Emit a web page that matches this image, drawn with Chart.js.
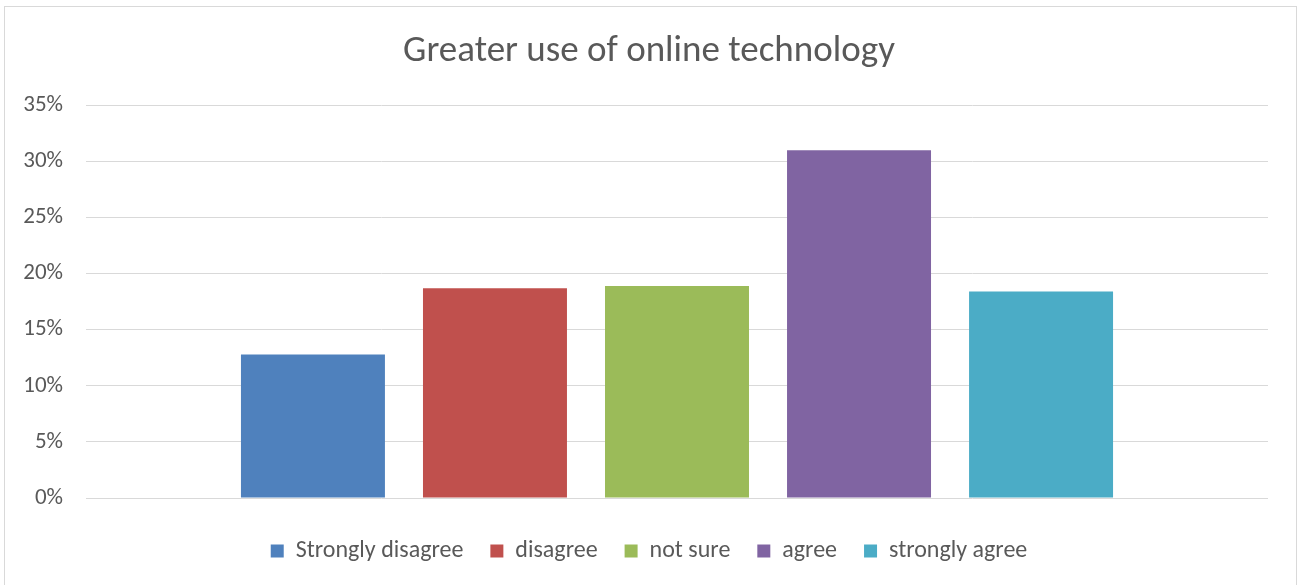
<!DOCTYPE html>
<html>
<head>
<meta charset="utf-8">
<script src="https://cdn.jsdelivr.net/npm/chart.js@4/dist/chart.umd.min.js"></script>
<style>
  html, body { margin: 0; padding: 0; background: #fff; }
  #wrap { position: relative; width: 1298px; height: 585px; }
</style>
</head>
<body>
<div id="wrap"><canvas id="myChart"></canvas></div>
<script>
// survey answers, one bar per answer
const answers = ['Strongly disagree', 'disagree', 'not sure', 'agree', 'strongly agree'];
const shares = [12.8, 18.7, 18.9, 31.0, 18.4];
const colors = ['#4F81BD', '#C0504D', '#9BBB59', '#8064A2', '#4BACC6'];
const yTicks = [0, 5, 10, 15, 20, 25, 30, 35];

const textColor = '#595959';
const fontFamily = 'Calibri, Carlito, "Liberation Sans", Arial, sans-serif';

// thin frame around the whole chart
const framePlugin = {
  id: 'frame',
  afterDraw(chart) {
    const ctx = chart.ctx;
    ctx.save();
    ctx.strokeStyle = '#d9d9d9';
    ctx.lineWidth = 1;
    ctx.strokeRect(4.5, 6.5, chart.width - 6, chart.height + 10);
    ctx.restore();
  }
};

const datasets = answers.map((name, i) => ({
  label: name,
  data: [shares[i]],
  backgroundColor: colors[i],
  borderWidth: 0,
  categoryPercentage: 0.77,
  barPercentage: 0.791
}));

const ctx = document.getElementById('myChart').getContext('2d');
const myChart = new Chart(ctx, {
  type: 'bar',
  data: { labels: [''], datasets: datasets },
  plugins: [framePlugin],
  options: {
    responsive: true,
    maintainAspectRatio: false,
    animation: false,
    layout: {
      padding: { top: 8, right: 0, bottom: 12, left: 0 }
    },
    scales: {
      x: {
        afterFit(axis) { axis.height = 14; },
        grid: { display: false },
        border: { display: false },
        ticks: { display: false }
      },
      y: {
        min: 0,
        max: 35,
        afterBuildTicks(axis) {
          axis.ticks = yTicks.map(v => ({ value: v }));
        },
        afterFit(axis) { axis.width = 86; },
        grid: { color: '#d9d9d9', lineWidth: 1, drawTicks: false },
        border: { display: false },
        ticks: {
          padding: 23,
          color: textColor,
          font: { family: fontFamily, size: 23 },
          callback: v => v + '%'
        }
      },
      // empty strip on the right so the title and legend stay centred
      spacer: {
        position: 'right',
        min: 0,
        max: 35,
        afterFit(axis) { axis.width = 30; },
        grid: { display: false },
        border: { display: false },
        ticks: { display: false }
      }
    },
    plugins: {
      title: {
        display: true,
        text: 'Greater use of online technology',
        color: textColor,
        font: { family: fontFamily, size: 37, weight: 'normal' },
        padding: { top: 22, bottom: 31 }
      },
      legend: {
        position: 'bottom',
        labels: {
          color: textColor,
          boxWidth: 13,
          boxHeight: 13,
          padding: 27,
          font: { family: fontFamily, size: 24 }
        }
      },
      tooltip: { enabled: false }
    }
  }
});
</script>
</body>
</html>
